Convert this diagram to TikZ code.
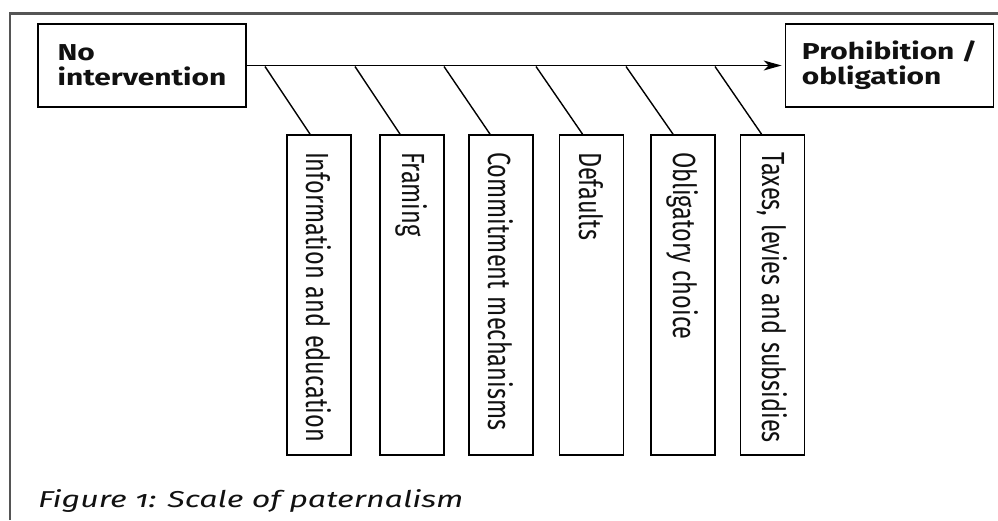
\documentclass[tikz,border=0pt]{standalone}
\usepackage{fontspec}
\usepackage{graphicx}
\setmainfont{Fira Sans}
\newfontfamily\capfont[Numbers=OldStyle]{Fira Sans}
\usetikzlibrary{arrows.meta}
\definecolor{framegray}{HTML}{555555}
\definecolor{ink}{HTML}{111111}
\newcommand{\cond}[1]{\scalebox{0.735}[1]{#1}}
\newcommand{\widetxt}[1]{\scalebox{1.3}[1]{#1}}
\tikzset{
  endbox/.style={draw=black, line width=1.8pt, rectangle, minimum width=208pt, minimum height=83pt,
    align=left, font=\bfseries\fontsize{23}{25}\selectfont, text=ink, inner sep=0pt},
  vbox/.style={draw=black, line width=1.8pt, rectangle, rotate=-90, minimum width=320pt, minimum height=64pt,
    inner xsep=17pt, inner ysep=0pt, text width=286pt, align=left, font=\fontsize{32}{34}\selectfont, text=ink},
  link/.style={draw=black, line width=1.4pt},
}
\begin{document}
\begin{tikzpicture}[x=1pt,y=-1pt]
\useasboundingbox (0,0) rectangle (998,520);
\draw[framegray, line width=2.4pt] (10,520) -- (10,13.5) -- (998,13.5);
\node[endbox] (none) at (142,65.5) {\widetxt{No}\\\widetxt{intervention}};
\node[endbox] (proh) at (889.5,65.5) {\widetxt{Prohibition /}\\\widetxt{obligation}};
\draw[link, -{Stealth[length=18pt,width=10pt,inset=5pt]}, shorten >=3pt] (none.east) -- (proh.west);
\node[vbox] (b1) at (319,295) {\cond{Information and education}};
\node[vbox] (b2) at (412,295) {\cond{Framing}};
\node[vbox] (b3) at (501,295) {\cond{Commitment mechanisms}};
\node[vbox] (b4) at (591.5,295) {\cond{Defaults}};
\node[vbox] (b5) at (683,295) {\cond{Obligatory choice}};
\node[vbox] (b6) at (772.5,295) {\cond{Taxes, levies and subsidies}};
\coordinate (s1) at (265,66.5);
\coordinate (s2) at (355,66.5);
\coordinate (s3) at (444,66.5);
\coordinate (s4) at (536,66.5);
\coordinate (s5) at (626,66.5);
\coordinate (s6) at (715,66.5);
\draw[link] (s1) -- ([xshift=-9pt]b1.west);
\draw[link] (s2) -- ([xshift=-12pt]b2.west);
\draw[link] (s3) -- ([xshift=-11pt]b3.west);
\draw[link] (s4) -- ([xshift=-9pt]b4.west);
\draw[link] (s5) -- ([xshift=-10pt]b5.west);
\draw[link] (s6) -- ([xshift=-11pt]b6.west);
\node[anchor=base west, font=\capfont\itshape\fontsize{23}{25}\selectfont, text=ink, inner sep=0pt] (cap) at (38,507) {\scalebox{1.4}[1]{Figure 1: Scale of paternalism}};
\end{tikzpicture}
\end{document}
